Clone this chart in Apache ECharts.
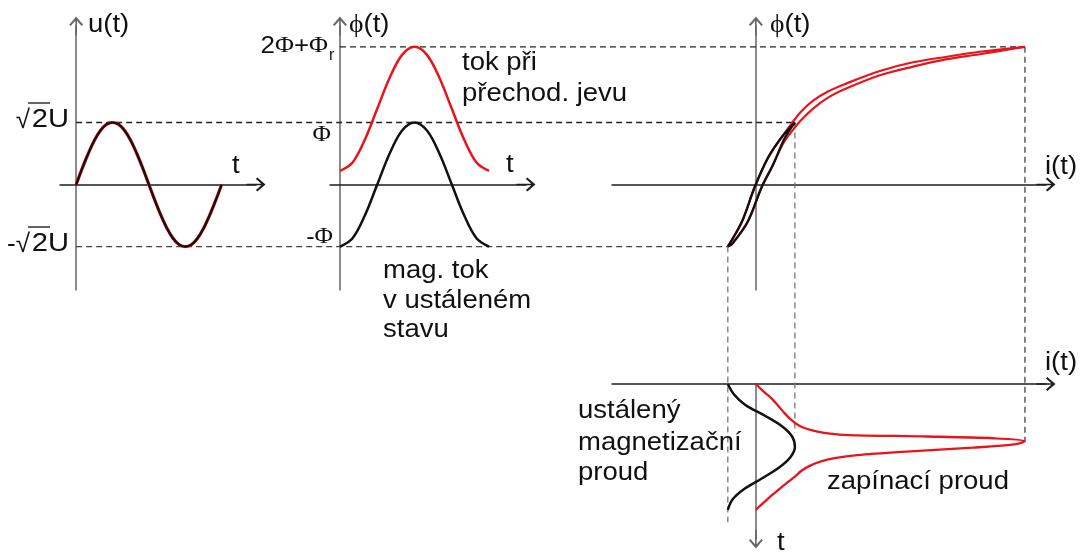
<!DOCTYPE html>
<html><head><meta charset="utf-8">
<script src="https://cdn.jsdelivr.net/npm/echarts@6/dist/echarts.min.js"></script>
<style>html,body{margin:0;padding:0;background:#fff}#c{width:1081px;height:553px}</style>
</head><body><div id="c"></div>
<script>
// ---------- data ----------
// panel 1: supply voltage u(t) in units of sqrt(2)U, t in degrees
const uT = [0,15,30,45,60,75,90,105,120,135,150,165,180,195,210,225,240,255,270,285,300,315,330,345,360];
const uVals = [0,0.26,0.5,0.71,0.87,0.97,1,0.97,0.87,0.71,0.5,0.26,0,-0.26,-0.5,-0.71,-0.87,-0.97,-1,-0.97,-0.87,-0.71,-0.5,-0.26,0];
// panel 2: flux in units of Phi
const fluxT = [0,30,60,90,120,150,180,210,240,270,300,330,360];
const fluxSteady = [-1,-0.87,-0.5,0,0.5,0.87,1,0.87,0.5,0,-0.5,-0.87,-1];
const fluxInrush = [0.22,0.35,0.72,1.22,1.72,2.09,2.22,2.09,1.72,1.22,0.72,0.35,0.22];
// panel 3: magnetisation loops [i, phi]
const loopSteadyUp = [[-0.72,-1.0],[-0.36,-0.6],[-0.03,-0.04],[0.31,0.43],[0.67,0.77],[1.0,1.0]];
const loopSteadyDown = [[1.0,1.0],[0.74,0.75],[0.44,0.32],[0.15,-0.04],[-0.21,-0.6],[-0.6,-0.95],[-0.72,-1.0]];
const loopInrushUp = [[-0.72,-1.0],[-0.36,-0.6],[-0.03,-0.04],[0.31,0.43],[0.67,0.77],[0.9,0.97],[1.15,1.17],[1.46,1.35],[1.85,1.5],[2.33,1.63],[3.18,1.83],[4.03,1.97],[4.9,2.06],[5.74,2.14],[6.9,2.22]];
const loopInrushDown = [[6.9,2.22],[5.74,2.1],[4.9,2.02],[4.03,1.9],[3.18,1.76],[2.33,1.55],[1.85,1.4],[1.46,1.22],[1.15,1.03],[0.9,0.84],[0.7,0.66],[0.44,0.32],[0.15,-0.04],[-0.21,-0.6],[-0.6,-0.95],[-0.72,-1.0]];
// panel 4: currents versus time (t downwards)
const curT = [0,30,60,90,120,150,180,210,240,270,300,330,360];
const curSteady = [-0.72,-0.56,-0.27,0.22,0.66,0.93,1.0,0.88,0.58,0.15,-0.3,-0.6,-0.72];
const inrushT = [0,22,41,62,84,102,117,128,136,142,146,150,155,163,172,182,193,203,212,222,234,248,265,284,303,320,336,350,360];
const inrushI = [0,0.2,0.4,0.57,0.74,0.9,1.08,1.3,1.58,1.9,2.35,4.38,6.08,6.9,6.68,5.56,3.86,2.6,2.02,1.65,1.38,1.17,1.0,0.78,0.57,0.39,0.23,0.09,0];

// ---------- chart ----------
const chart = echarts.init(document.getElementById('c'), null, {renderer:'canvas'});
const CHEV = 'path://M7,0 L14,8.2 L12.5,9.6 L7,3.3 L1.5,9.6 L0,8.2 Z M6.2,2 L7.8,2 L7.8,19 L6.2,19 Z';
const RED = '#e8141b', BLK = '#111';
const hidden = {axisTick:{show:false}, axisLabel:{show:false}, splitLine:{show:false}};
function xAx(g, min, max) {
  return Object.assign({gridIndex:g, type:'value', min, max,
    axisLine:{show:true, onZero:true, symbol:['none', CHEV], symbolSize:[14,19], lineStyle:{color:'#1e1e1e', width:1.5}}}, hidden);
}
function yAx(g, min, max, sym) {
  return Object.assign({gridIndex:g, type:'value', min, max,
    axisLine:{show:true, onZero:true, symbol:sym, symbolSize:[14,19], lineStyle:{color:'#666', width:1.5}}}, hidden);
}
function line(g, data, color, width, z, sm) {
  return {type:'line', xAxisIndex:g, yAxisIndex:g, data, showSymbol:false, smooth: sm == null ? 0.35 : sm,
    lineStyle:{color, width}, z: z || 2, silent:true};
}
const topRow = {top:26, height:264, outerBoundsMode:'none', containLabel:false};
const option = {
  animation:false,
  backgroundColor:'#fff',
  grid:[
    Object.assign({left:60, width:196}, topRow),
    Object.assign({left:330, width:196}, topRow),
    Object.assign({left:612, width:434}, topRow),
    {left:612, width:434, top:384, height:155, outerBoundsMode:'none', containLabel:false}
  ],
  xAxis:[xAx(0,-40,445), xAx(1,-24,449), xAx(2,-3.69,7.44), xAx(3,-3.69,7.44)],
  yAxis:[yAx(0,-1.70,2.555,['none',CHEV]), yAx(1,-1.70,2.555,['none',CHEV]), yAx(2,-1.70,2.555,['none',CHEV]), yAx(3,-443,0,[CHEV,'none'])],
  series:[
    line(0, uT.map((t,k)=>[t,uVals[k]]), RED, 3.2, 2),
    line(0, uT.map((t,k)=>[t,uVals[k]]), BLK, 2.2, 3),
    line(1, fluxT.map((t,k)=>[t,fluxInrush[k]]), RED, 2.5),
    line(1, fluxT.map((t,k)=>[t,fluxSteady[k]]), BLK, 2.5),
    line(2, loopInrushUp, RED, 2.2, 2),
    line(2, loopInrushDown, RED, 2.2, 2),
    line(2, loopSteadyUp, BLK, 2.3, 3),
    line(2, loopSteadyDown, BLK, 2.3, 3),
    line(3, curT.map((t,k)=>[curSteady[k], -t]), BLK, 2.5),
    line(3, inrushT.map((t,k)=>[inrushI[k], -t]), RED, 2.3, 2, 0.3)
  ]
};
chart.setOption(option);

// ---------- guide lines computed through the axes ----------
const P = (g, pt) => chart.convertToPixel({gridIndex:g}, pt);
const iMinB = Math.min(...curSteady);
const iMaxB = Math.max(...loopSteadyUp.map(p=>p[0]));
const iMaxR = Math.max(...inrushI);
const phiMaxR = Math.max(...fluxInrush);
const tPeakR = inrushT[inrushI.indexOf(iMaxR)];
function dash(a, b, color) {
  return {type:'line', z:1, silent:true, shape:{x1:a[0], y1:a[1], x2:b[0], y2:b[1]},
    style:{stroke:color, lineWidth:1.3, lineDash:[6,4]}};
}
const gfx = [
  dash(P(0,[0,1]), P(2,[iMaxB,1]), '#222'),
  dash(P(0,[0,-1]), P(2,[iMinB,-1]), '#444'),
  dash(P(1,[0,phiMaxR]), P(2,[iMaxR,phiMaxR]), '#222'),
  dash(P(2,[iMinB,-1]), P(3,[iMinB,-395]), '#777'),
  dash(P(2,[iMaxB,1]), P(3,[iMaxB,-140]), '#777'),
  dash(P(2,[iMaxR,phiMaxR]), P(3,[iMaxR,-tPeakR]), '#444')
];
// ---------- texts ----------
const SANS = '"Liberation Sans", Arial, sans-serif', SERIF = '"Liberation Serif", "Times New Roman", serif';
function txt(x, y, text, align, size, sx) {
  return {type:'text', z:10, silent:true, x, y, scaleX: sx || 1.1,
    style:{text, fill:'#111', fontFamily:SANS, fontSize:size || 25, align:align || 'left', verticalAlign:'middle',
      rich:{g:{fontFamily:SERIF, fontSize:size || 25, fill:'#111'}}}};
}
gfx.push(
  txt(88, 25, 'u(t)'),
  txt(349, 25, '{g|ϕ}(t)'),
  txt(770, 25, '{g|ϕ}(t)'),
  txt(232, 166, 't'),
  txt(506, 165, 't'),
  txt(1045, 167, 'i(t)'),
  txt(1045, 363, 'i(t)'),
  txt(777, 543, 't'),
  txt(69, 120, '2U', 'right', 26, 1.12),
  txt(30, 121, '√', 'right', 26, 1.0),
  txt(69, 244, '2U', 'right', 26, 1.12),
  txt(30, 245, '-√', 'right', 26, 1.0),
  txt(328, 46, '2{g|Φ}+{g|Φ}', 'right', 24, 1.08),
  txt(329, 56, 'r', 'left', 16, 1.0),
  txt(331, 135, '{g|Φ}', 'right', 24, 1.05),
  txt(333, 237, '-{g|Φ}', 'right', 24, 1.05),
  txt(462, 63, 'tok při'),
  txt(462, 94, 'přechod. jevu'),
  txt(383, 271, 'mag. tok'),
  txt(383, 301, 'v ustáleném'),
  txt(383, 330, 'stavu'),
  txt(578, 411, 'ustálený'),
  txt(578, 443, 'magnetizační'),
  txt(578, 473, 'proud'),
  txt(827, 482, 'zapínací proud'),
  {type:'line', z:10, silent:true, shape:{x1:28, y1:103, x2:50, y2:103}, style:{stroke:'#111', lineWidth:1.3}},
  {type:'line', z:10, silent:true, shape:{x1:28, y1:227, x2:50, y2:227}, style:{stroke:'#111', lineWidth:1.3}}
);
chart.setOption({graphic: gfx});
</script></body></html>
